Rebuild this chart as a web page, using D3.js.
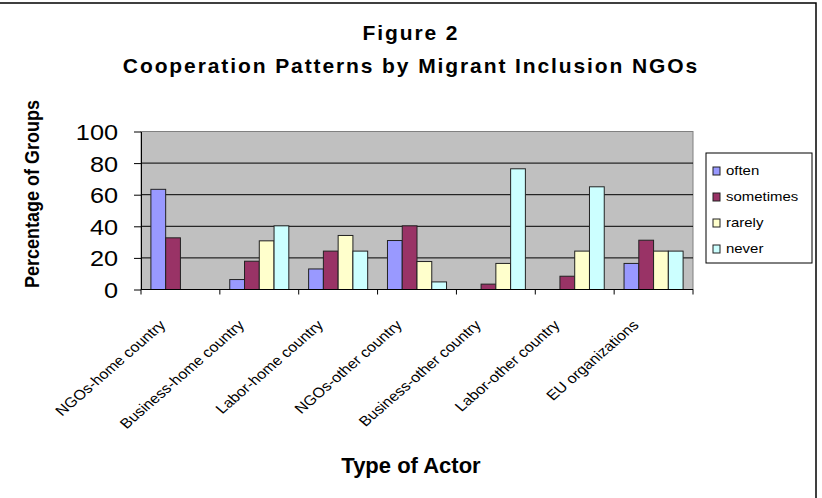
<!DOCTYPE html>
<html>
<head>
<meta charset="utf-8">
<script src="https://cdn.jsdelivr.net/npm/d3@7"></script>
<style>
  html, body { margin: 0; padding: 0; background: #fff; }
  svg { display: block; font-family: "Liberation Sans", Arial, sans-serif; }
</style>
</head>
<body>
<svg id="chart" width="822" height="498"></svg>
<script>
const categories = ["NGOs-home country", "Business-home country", "Labor-home country",
  "NGOs-other country", "Business-other country", "Labor-other country", "EU organizations"];
const seriesNames = ["often", "sometimes", "rarely", "never"];
const often     = [63.4, 6.3, 13.0, 31.0, 0, 0, 16.5];
const sometimes = [32.7, 17.9, 24.3, 40.3, 3.4, 8.4, 31.2];
const rarely    = [0, 30.8, 34.2, 17.7, 16.5, 24.3, 24.3];
const never     = [0, 40.3, 24.3, 4.8, 76.4, 65.0, 24.3];
const yTicks = [0, 20, 40, 60, 80, 100];
const colors = ["#9999FF", "#993366", "#FFFFCC", "#CCFFFF"];

const seriesValues = [often, sometimes, rarely, never];

const svg = d3.select("#chart");
const W = 822, H = 498;
const plot = { left: 141, right: 693, top: 131.5, bottom: 289.5 };

// outer border (top & right visible)
svg.append("rect").attr("x", -3).attr("y", 3).attr("width", 819).attr("height", 500)
  .attr("fill", "#fff").attr("stroke", "#000").attr("stroke-width", 1.5);

const x0 = d3.scaleBand().domain(categories).range([plot.left, plot.right]).padding(0);
const groupPad = 9.9;
const x1 = d3.scaleBand().domain(seriesNames).range([groupPad, x0.bandwidth() - groupPad]).padding(0);
const y = d3.scaleLinear().domain([0, 100]).range([plot.bottom, plot.top]);
const color = d3.scaleOrdinal().domain(seriesNames).range(colors);

// plot area background
svg.append("rect")
  .attr("x", plot.left).attr("y", y(100))
  .attr("width", plot.right - plot.left).attr("height", y(0) - y(100))
  .attr("fill", "#C0C0C0").attr("stroke", "#808080").attr("stroke-width", 1);

// gridlines
svg.append("g").selectAll("line").data(yTicks.filter(t => t > 0 && t < 100)).join("line")
  .attr("x1", plot.left).attr("x2", plot.right)
  .attr("y1", d => y(d)).attr("y2", d => y(d))
  .attr("stroke", "#000").attr("stroke-width", 1);

// bars
const groups = svg.append("g").selectAll("g").data(categories).join("g")
  .attr("transform", c => `translate(${x0(c)},0)`);
groups.selectAll("rect")
  .data((c, i) => seriesNames.map((s, j) => ({ s, v: seriesValues[j][i] })))
  .join("rect")
  .filter(d => d.v > 0)
  .attr("x", d => x1(d.s)).attr("width", x1.bandwidth())
  .attr("y", d => y(d.v)).attr("height", d => y(0) - y(d.v))
  .attr("fill", d => color(d.s))
  .attr("stroke", "#222").attr("stroke-width", 1);

// y axis
const yAxis = svg.append("g").attr("transform", `translate(${plot.left},0)`)
  .call(d3.axisLeft(y).tickValues(yTicks).tickSize(7).tickSizeOuter(0));
yAxis.select(".domain").attr("stroke", "#000");
yAxis.selectAll(".tick line").attr("stroke", "#000");
yAxis.selectAll(".tick text")
  .attr("font-size", 22).attr("fill", "#000")
  .attr("x", -20).attr("dy", "0.36em")
  .attr("transform", "scale(1.15,1)")
  .style("font-family", "'Liberation Sans', Arial, sans-serif");

// x axis
svg.append("line").attr("x1", plot.left).attr("x2", plot.right)
  .attr("y1", plot.bottom).attr("y2", plot.bottom).attr("stroke", "#000");
const boundaries = categories.map(c => x0(c)).concat([x0(categories[categories.length - 1]) + x0.bandwidth()]);
svg.append("g").selectAll("line").data(boundaries).join("line")
  .attr("x1", d => d).attr("x2", d => d)
  .attr("y1", plot.bottom).attr("y2", plot.bottom + 5)
  .attr("stroke", "#000");

// category labels
svg.append("g").selectAll("text").data(categories).join("text")
  .attr("transform", c => `translate(${x0(c) + x0.bandwidth() / 2 - 14},326) scale(1.15,1) rotate(-45)`)
  .attr("text-anchor", "end")
  .attr("font-size", 14)
  .attr("fill", "#000")
  .text(c => c);

// titles
svg.append("text").attr("x", 411).attr("y", 40).attr("text-anchor", "middle")
  .attr("font-size", 21).attr("font-weight", "bold").attr("letter-spacing", 1.9)
  .text("Figure 2");
svg.append("text").attr("x", 411).attr("y", 72.5).attr("text-anchor", "middle")
  .attr("font-size", 21).attr("font-weight", "bold").attr("letter-spacing", 1.9)
  .text("Cooperation Patterns by Migrant Inclusion NGOs");

// axis titles
svg.append("text").attr("x", 411).attr("y", 473).attr("text-anchor", "middle")
  .attr("font-size", 22).attr("font-weight", "bold")
  .text("Type of Actor");
svg.append("text")
  .attr("transform", "translate(39,194) scale(1.15,1) rotate(-90)")
  .attr("text-anchor", "middle")
  .attr("font-size", 18).attr("font-weight", "bold")
  .text("Percentage of Groups");

// legend
const legend = svg.append("g");
legend.append("rect").attr("x", 706).attr("y", 153).attr("width", 106).attr("height", 110)
  .attr("fill", "#fff").attr("stroke", "#000").attr("stroke-width", 1);
const baselines = [175, 201, 227, 253];
const li = legend.selectAll("g.item").data(seriesNames).join("g").attr("class", "item");
li.append("rect")
  .attr("x", 713).attr("y", (d, i) => baselines[i] - 8)
  .attr("width", 7).attr("height", 8)
  .attr("fill", d => color(d)).attr("stroke", "#222").attr("stroke-width", 1);
li.append("text")
  .attr("transform", (d, i) => `translate(726,${baselines[i]}) scale(1.15,1)`)
  .attr("font-size", 13).attr("fill", "#000")
  .text(d => d);
</script>
</body>
</html>
